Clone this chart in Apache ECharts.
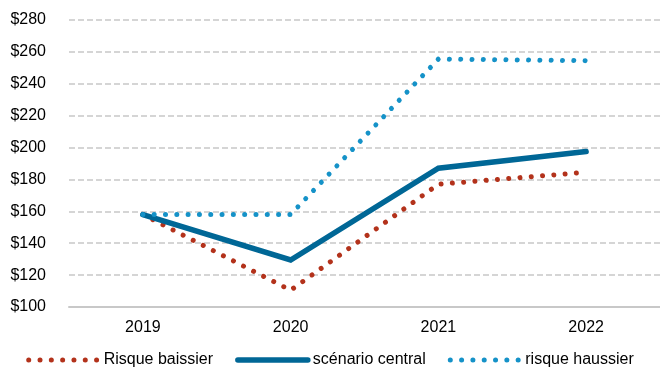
<!DOCTYPE html>
<html>
<head>
<meta charset="utf-8">
<script src="https://cdn.jsdelivr.net/npm/echarts@6/dist/echarts.min.js"></script>
<style>
  html, body { margin: 0; padding: 0; background: #fff; }
  #chart { width: 660px; height: 369px; }
</style>
</head>
<body>
<div id="chart"></div>
<script>
// Years on the horizontal axis
const years = ['2019', '2020', '2021', '2022'];

// Price scenarios ($)
const risqueBaissier = [158, 110.5, 177, 184.5];
const scenarioCentral = [158, 129.5, 187, 197.5];
const risqueHaussier = [158, 158, 255.5, 254.5];

// Value axis range
const yMin = 100;
const yMax = 280;
const yStep = 20;

const FONT = 'Liberation Sans, Arial, sans-serif';
const RED = '#b3321b';
const BLUE = '#006796';
const LIGHT = '#1592c8';

const chart = echarts.init(document.getElementById('chart'), null, { renderer: 'canvas' });

const dotted = (color) => ({
  color: color,
  width: 5,
  type: [0.01, 11.3],
  cap: 'round'
});
const solid = { color: BLUE, width: 5.5, cap: 'round', join: 'miter' };

chart.setOption({
  animation: false,
  backgroundColor: '#ffffff',
  grid: { left: 69, right: -6, top: 20, bottom: 62, containLabel: false },
  legend: {
    bottom: -4,
    left: 'center',
    itemWidth: 70,
    itemHeight: 14,
    itemGap: 22,
    textStyle: { fontFamily: FONT, fontSize: 16, color: '#000' },
    data: [
      { name: 'Risque baissier', itemStyle: { opacity: 0 }, lineStyle: dotted(RED) },
      { name: 'scénario central', itemStyle: { opacity: 0 }, lineStyle: solid },
      { name: 'risque haussier', itemStyle: { opacity: 0 }, lineStyle: dotted(LIGHT) }
    ]
  },
  xAxis: {
    type: 'category',
    data: years,
    boundaryGap: true,
    axisLine: { show: true, lineStyle: { color: '#c8c8c8', width: 2 } },
    axisTick: { show: false },
    axisLabel: { fontFamily: FONT, fontSize: 16, color: '#000', margin: 13 },
    splitLine: { show: false }
  },
  yAxis: {
    type: 'value',
    min: yMin,
    max: yMax,
    interval: yStep,
    axisLine: { show: false },
    axisTick: { show: false },
    axisLabel: {
      fontFamily: FONT, fontSize: 16, color: '#000', margin: 23,
      formatter: (v) => '$' + v
    },
    splitLine: { show: true, lineStyle: { color: '#c8c8c8', width: 1.5, type: [6, 3] } }
  },
  series: [
    {
      name: 'Risque baissier',
      type: 'line',
      data: risqueBaissier,
      symbol: 'none',
      color: RED,
      lineStyle: dotted(RED),
      z: 2
    },
    {
      name: 'scénario central',
      type: 'line',
      data: scenarioCentral,
      symbol: 'none',
      color: BLUE,
      lineStyle: solid,
      z: 3
    },
    {
      name: 'risque haussier',
      type: 'line',
      data: risqueHaussier,
      symbol: 'none',
      color: LIGHT,
      lineStyle: dotted(LIGHT),
      z: 4
    }
  ]
});
</script>
</body>
</html>
